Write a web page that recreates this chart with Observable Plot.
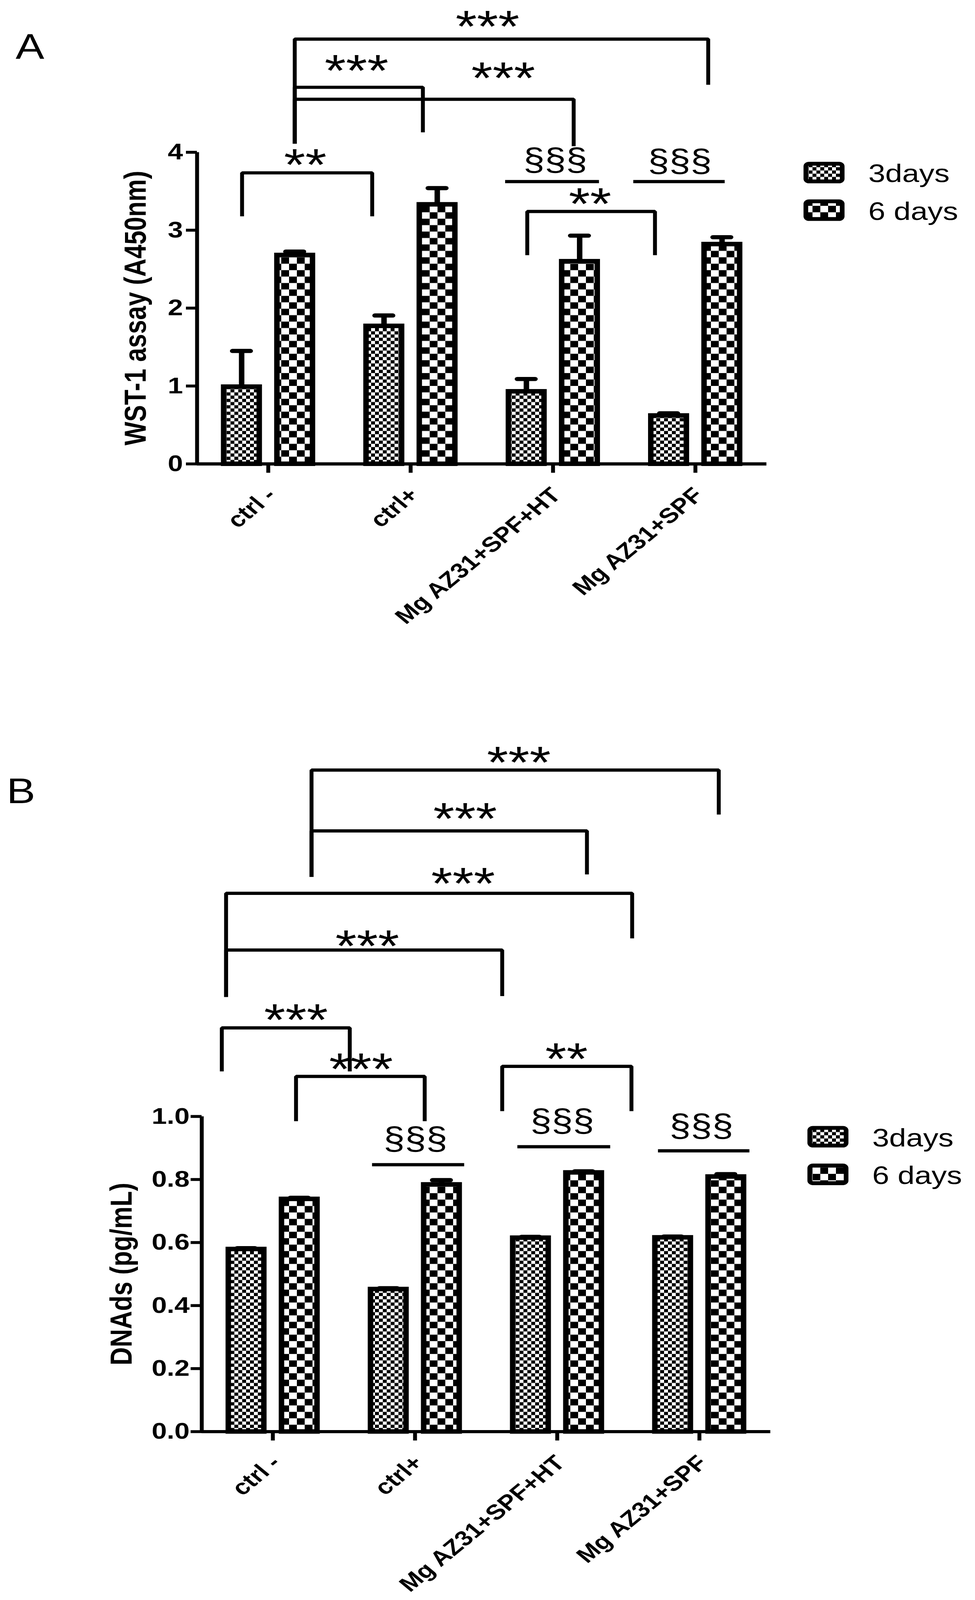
<!DOCTYPE html>
<html>
<head>
<meta charset="utf-8">
<script src="https://cdn.jsdelivr.net/npm/d3@7"></script>
<script src="https://cdn.jsdelivr.net/npm/@observablehq/plot@0.6"></script>
<style>
html, body { margin: 0; padding: 0; background: #fff; overflow: hidden; }
#wrap { position: relative; width: 2496px; height: 4975px; overflow: hidden; background: #fff; transform-origin: 0 0; }
#wrap svg { display: block; }
.plabel { position: absolute; font-family: "Liberation Sans", Arial, sans-serif; font-size: 110px; line-height: 110px; color: #000; }
</style>
</head>
<body>
<div id="wrap"></div>
<script>
// ---------- data ----------
const categories = ["ctrl -", "ctrl+", "Mg AZ31+SPF+HT", "Mg AZ31+SPF"];
const series = ["3days", "6 days"];

// Panel A: WST-1 assay (A450nm)
const wst3 = [0.99, 1.77, 0.93, 0.62];
const wst3Err = [0.46, 0.135, 0.16, 0.03];
const wst6 = [2.68, 3.33, 2.60, 2.82];
const wst6Err = [0.045, 0.21, 0.33, 0.09];
const wstTicks = [0, 1, 2, 3, 4];

// Panel A significance brackets (x in category units, y in data units)
const sigA_x1 = [0.186, 0.186, 0.186, -0.184, 1.819];
const sigA_x2 = [3.09, 1.086, 2.145, 0.73, 2.716];
const sigA_y = [5.453, 4.834, 4.681, 3.736, 3.240];
const sigA_yb1 = [4.11, 4.11, 4.11, 3.178, 2.679];
const sigA_yb2 = [4.867, 4.256, 4.078, 3.178, 2.679];
const sigA_label = ["***", "***", "***", "**", "**"];
const sigA_lx = [1.54, 0.62, 1.65, 0.26, 2.26];
const sigA_ly = [5.70, 5.131, 5.036, 3.926, 3.422];
const secA_y = [3.624, 3.624];
const secA_x1 = [1.665, 2.565];
const secA_x2 = [2.324, 3.207];
const secA_lx = [2.016, 2.89];
const secA_ly = [3.876, 3.86];

// Panel B: DNAds (pg/mL)
const dna3 = [0.579, 0.452, 0.615, 0.616];
const dna3Err = [0.003, 0.003, 0.003, 0.003];
const dna6 = [0.738, 0.784, 0.822, 0.809];
const dna6Err = [0.004, 0.014, 0.004, 0.008];
const dnaTicks = [0, 0.2, 0.4, 0.6, 0.8, 1.0];

const sigB_x1 = [0.272, 0.272, -0.329, -0.329, -0.359, 0.163, 1.613];
const sigB_x2 = [3.136, 2.209, 2.527, 1.613, 0.541, 1.068, 2.522];
const sigB_y = [2.099, 1.906, 1.708, 1.528, 1.281, 1.127, 1.159];
const sigB_yb1 = [1.760, 1.760, 1.379, 1.379, 1.143, 0.985, 1.017];
const sigB_yb2 = [1.958, 1.768, 1.565, 1.382, 1.143, 0.985, 1.017];
const sigB_label = ["***", "***", "***", "***", "***", "***", "**"];
const sigB_lx = [1.73, 1.352, 1.338, 0.664, 0.163, 0.62, 2.065];
const sigB_ly = [2.144, 1.966, 1.760, 1.562, 1.327, 1.171, 1.203];
const secB_y = [0.847, 0.904, 0.891];
const secB_x1 = [0.699, 1.721, 2.71];
const secB_x2 = [1.347, 2.374, 3.353];
const secB_lx = [1.003, 2.035, 3.014];
const secB_ly = [0.923, 0.980, 0.964];

// ---------- drawing ----------
const FONT = "'Liberation Sans', Arial, Helvetica, sans-serif";

function defs(pid) {
  return () => {
    const d = d3.create("svg:defs");
    [[10, 0], [20, 1]].forEach(([c, k]) => {
      const p = d.append("pattern").attr("id", pid + k)
        .attr("patternUnits", "userSpaceOnUse").attr("width", 2 * c).attr("height", 2 * c);
      p.append("rect").attr("width", 2 * c).attr("height", 2 * c).attr("fill", "white");
      p.append("rect").attr("width", c).attr("height", c).attr("fill", "black");
      p.append("rect").attr("x", c).attr("y", c).attr("width", c).attr("height", c).attr("fill", "black");
    });
    return d.node();
  };
}

function legend(pid) {
  return (index, scales, values, dim) => {
    const g = d3.create("svg:g");
    const x0 = dim.width - dim.marginRight + 95;
    const y0 = dim.marginTop + 30;
    series.forEach((s, k) => {
      const y = y0 + k * 117;
      g.append("rect").attr("x", x0 + 6).attr("y", y + 6).attr("width", 93).attr("height", 55)
        .attr("rx", 8).attr("fill", `url(#${pid}${k})`).attr("stroke", "black").attr("stroke-width", 12);
      g.append("text").attr("x", x0 + 166).attr("y", y + 36).attr("dy", "0.35em")
        .attr("text-anchor", "start").attr("font-size", 78).attr("fill", "black").text(s);
    });
    return g.node();
  };
}

function buildPanel(o) {
  const pid = o.id;
  const OFF = [-0.187, 0.187];
  const HW = 0.125;
  const CAP = 0.063;
  const bars = categories.flatMap((c, i) => [
    {i, s: 0, v: o.v3[i], e: o.e3[i]},
    {i, s: 1, v: o.v6[i], e: o.e6[i]}
  ]);
  bars.forEach(b => b.cx = b.i + OFF[b.s]);
  const br = o.bx1.map((x1, k) => ({x1, x2: o.bx2[k], y: o.by[k], yb1: o.byb1[k], yb2: o.byb2[k], t: o.bl[k], lx: o.blx[k], ly: o.bly[k]}));
  const pts = br.flatMap((b, k) => [
    {k, x: b.x1, y: b.yb1}, {k, x: b.x1, y: b.y}, {k, x: b.x2, y: b.y}, {k, x: b.x2, y: b.yb2}
  ]);
  const ss = o.sy.map((y, k) => ({y, x1: o.sx1[k], x2: o.sx2[k], lx: o.slx[k], ly: o.sly[k]}));
  return Plot.plot({
    width: 2496, height: o.height,
    marginLeft: o.ml, marginRight: o.mr, marginTop: o.mt, marginBottom: o.mb,
    x: {domain: [-0.5, 3.5]},
    y: {domain: o.ydom},
    style: {fontFamily: FONT, background: "white", color: "black", overflow: "visible"},
    marks: [
      defs(pid),
      Plot.rect(bars.filter(b => b.s === 0), {x1: b => b.cx - HW, x2: b => b.cx + HW, y1: 0, y2: "v",
        fill: `url(#${pid}0)`, stroke: "black", strokeWidth: 14}),
      Plot.rect(bars.filter(b => b.s === 1), {x1: b => b.cx - HW, x2: b => b.cx + HW, y1: 0, y2: "v",
        fill: `url(#${pid}1)`, stroke: "black", strokeWidth: 14}),
      Plot.ruleX(bars, {x: "cx", y1: "v", y2: b => b.v + b.e, strokeWidth: 14}),
      Plot.ruleY(bars, {y: b => b.v + b.e, x1: b => b.cx - CAP, x2: b => b.cx + CAP, strokeWidth: 13, strokeLinecap: "round"}),
      Plot.ruleX([-0.5], {y1: o.ydom[0], y2: o.ydom[1], strokeWidth: 10}),
      Plot.axisY({ticks: o.ticks, tickFormat: o.fmt, tickSize: 28, tickPadding: o.tp, fontSize: 70,
        fontWeight: "bold", strokeWidth: 9, label: null}),
      Plot.axisX({ticks: [0, 1, 2, 3], tickFormat: () => "", tickSize: 28, strokeWidth: 10, label: null}),
      Plot.ruleY([0], {x1: -0.5, x2: 3.5, strokeWidth: 10}),
      Plot.text(categories, {x: (d, i) => i, y: () => 0, rotate: -45, textAnchor: "end", lineAnchor: "top",
        dx: -10, dy: 68, fontSize: 66, fontWeight: "bold"}),
      Plot.text([o.ylabel], {frameAnchor: "left", rotate: -90, dx: o.ydx, lineAnchor: "bottom",
        textAnchor: "middle", fontSize: 78, fontWeight: "bold"}),
      Plot.line(pts, {x: "x", y: "y", z: "k", strokeWidth: 10, strokeLinejoin: "miter", strokeLinecap: "butt"}),
      Plot.text(br, {x: "lx", y: "ly", text: "t", fontSize: 140, dy: 68, lineAnchor: "bottom"}),
      Plot.ruleY(ss, {y: "y", x1: "x1", x2: "x2", strokeWidth: 10}),
      Plot.text(ss, {x: "lx", y: "ly", text: () => "§§§", fontSize: 98, dy: 26, lineAnchor: "bottom"}),
      legend(pid)
    ]
  });
}

const wrap = document.getElementById("wrap");

const plotA = buildPanel({
  id: "patA", height: 2250, ml: 504, mr: 534, mt: 473, mb: 808,
  ydom: [0, 4], ticks: wstTicks, fmt: d3.format("d"), tp: 8,
  v3: wst3, e3: wst3Err, v6: wst6, e6: wst6Err,
  ylabel: "WST-1 assay (A450nm)", ydx: -132,
  bx1: sigA_x1, bx2: sigA_x2, by: sigA_y, byb1: sigA_yb1, byb2: sigA_yb2, bl: sigA_label, blx: sigA_lx, bly: sigA_ly,
  sy: secA_y, sx1: secA_x1, sx2: secA_x2, slx: secA_lx, sly: secA_ly
});
wrap.appendChild(plotA);

const plotB = buildPanel({
  id: "patB", height: 2725, ml: 516, mr: 524, mt: 1221, mb: 524,
  ydom: [0, 1], ticks: dnaTicks, fmt: d3.format(".1f"), tp: 3,
  v3: dna3, e3: dna3Err, v6: dna6, e6: dna6Err,
  ylabel: "DNAds (pg/mL)", ydx: -180,
  bx1: sigB_x1, bx2: sigB_x2, by: sigB_y, byb1: sigB_yb1, byb2: sigB_yb2, bl: sigB_label, blx: sigB_lx, bly: sigB_ly,
  sy: secB_y, sx1: secB_x1, sx2: secB_x2, slx: secB_lx, sly: secB_ly
});
wrap.appendChild(plotB);

const la = document.createElement("div");
la.className = "plabel"; la.textContent = "A";
la.style.left = "40px"; la.style.top = "89px";
wrap.appendChild(la);
const lb = document.createElement("div");
lb.className = "plabel"; lb.textContent = "B";
lb.style.left = "17px"; lb.style.top = "2404px";
wrap.appendChild(lb);

// The browser viewport may be shorter than the 4975px figure: fit it vertically.
const fitK = Math.min(1, window.innerHeight / 4975);
if (fitK < 1) {
  wrap.style.transform = `scale(1, ${fitK})`;
  document.body.style.height = window.innerHeight + "px";
}
</script>
</body>
</html>
